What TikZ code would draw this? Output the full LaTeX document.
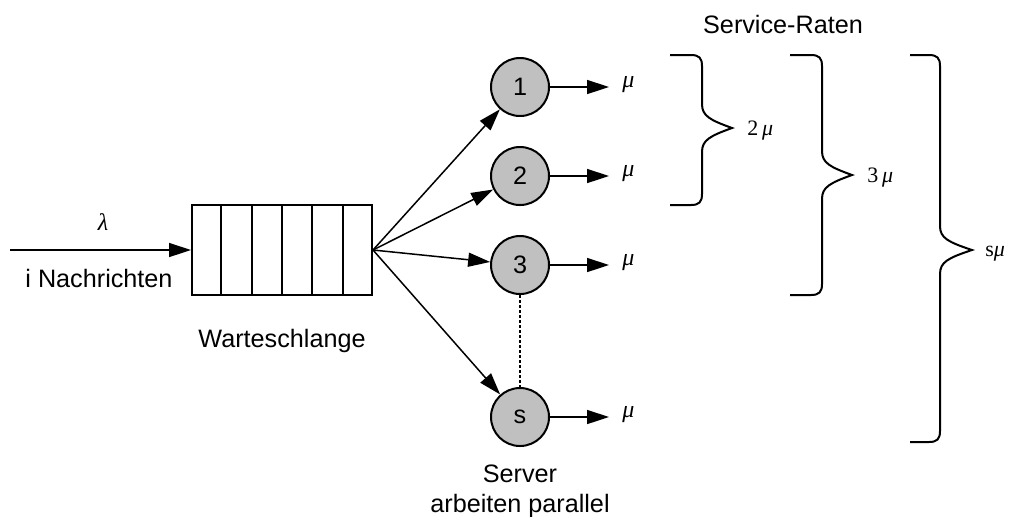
\documentclass[tikz,border=0pt]{standalone}
\usepackage{fontspec}
\setmainfont{Liberation Sans}
\newfontfamily\serifface{Liberation Serif}
\usetikzlibrary{arrows.meta,calc}
\definecolor{srvgray}{RGB}{192,192,192}
% curly brace: left end x, spine x, tip x, top y, bottom y, tip y
\newcommand\ratebrace[6]{%
  \draw[bracepath] (#1,#4) -- ({#2-11},#4)
    .. controls ({#2-3},#4) and (#2,{#4+3}) .. (#2,{#4+11})
    -- (#2,{#6-24})
    .. controls (#2,{#6-12}) and ({#2+8},{#6-8}) .. (#3,#6)
    .. controls ({#2+8},{#6+8}) and (#2,{#6+12}) .. (#2,{#6+24})
    -- (#2,{#5-11})
    .. controls (#2,{#5-3}) and ({#2-3},#5) .. ({#2-11},#5)
    -- (#1,#5);}
\begin{document}
\begin{tikzpicture}[x=0.5pt,y=-0.5pt,
  every node/.style={font=\fontsize{12.6}{15}\selectfont},
  server/.style={circle,draw,line width=1pt,fill=srvgray,minimum size=29pt,inner sep=0pt},
  queue/.style={draw,line width=1pt,minimum width=90pt,minimum height=45pt,inner sep=0pt},
  flow/.style={line width=0.75pt,-{Triangle[length=11pt,width=7pt]}},
  rate/.style={font=\serifface\fontsize{12}{14}\selectfont,anchor=base west,inner sep=0pt},
  total/.style={font=\serifface\fontsize{11}{13}\selectfont,anchor=base west,inner sep=0pt},
  caption/.style={anchor=base,inner sep=0pt},
  bracepath/.style={line width=1pt}]
\useasboundingbox (0,0) rectangle (1010,516);

% queue with six slots
\node[queue] (q) at (282,250) {};
\foreach \i in {1,...,5}
  \draw[line width=1pt] ($(q.north west)!\i/6!(q.north east)$) -- ($(q.south west)!\i/6!(q.south east)$);

% arrivals
\coordinate (src) at (10,250);
\draw[flow] (src) -- (q.west);
\node[caption,font=\serifface\itshape\fontsize{12}{14}\selectfont] (lam) at (103,230) {λ};
\node[caption] (arr) at (99,287) {i Nachrichten};
\node[caption] (wl) at (282,347) {Warteschlange};

% servers
\node[server] (c1) at (520,87) {1};
\node[server] (c2) at (520,176) {2};
\node[server] (c3) at (520,265) {3};
\node[server] (cs) at (520,417) {s};
\foreach \c in {c1,c2,c3,cs}
  \draw[flow] (q.east) -- (\c);
\draw[line width=0.6pt,dash pattern=on 1.5pt off 1pt] (c3.south) -- (cs.north);

% departures
\foreach \c/\y in {c1/87,c2/176,c3/265,cs/417}{
  \coordinate (o\c) at (609,\y);
  \draw[flow] (\c) -- (o\c);
  \node[rate] (m\c) at (622,\y) {\itshape μ};
}

\node[caption] (srv) at (520,482) {Server};
\node[caption] (par) at (520,512) {arbeiten parallel};
\node[caption] (sr) at (783,33) {Service-Raten};

% aggregated rates
\ratebrace{670}{702}{732}{55}{205}{128}
\ratebrace{790}{822}{852}{55}{295}{175}
\ratebrace{910}{940}{972}{55}{442}{250}
\node[total] (r2) at (747,135) {2\,\itshape μ};
\node[total] (r3) at (867,182) {3\,\itshape μ};
\node[total] (rs) at (985,256) {s\itshape μ};
\end{tikzpicture}
\end{document}
